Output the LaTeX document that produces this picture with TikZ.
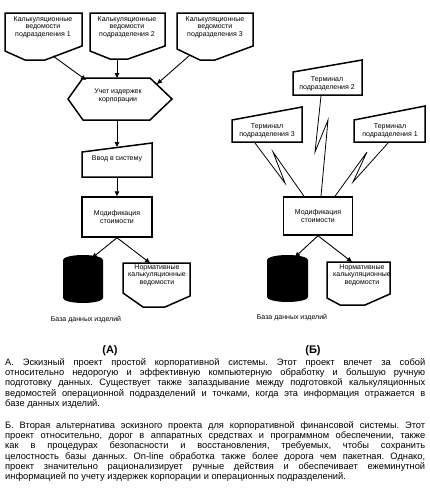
\documentclass[tikz,border=0pt]{standalone}
\usepackage{fontspec}
\setmainfont{Liberation Sans}
\usetikzlibrary{arrows.meta}

\begin{document}
\begin{tikzpicture}
[x=1pt, y=-1pt,
every node/.style={font=\fontsize{7}{7.4}\selectfont, align=center, inner sep=0pt},
outline/.style={draw, line width=1.5pt, line join=miter},
flow/.style={line width=0.9pt, -{Triangle[length=5pt,width=4.5pt]}},
bolt/.style={line width=0.8pt, line join=miter},
caption/.style={font=\bfseries\fontsize{11}{12}\selectfont},
para/.style={anchor=north west, text width=420, align=justify, font=\fontsize{9.3}{10.3}\selectfont}]
\useasboundingbox (0,0) rectangle (430,501);

% (A) source sheets
\draw[outline] (5,13) -- (82,13) -- (82,46) -- (45,60) -- (25,60) -- (5,51) -- cycle;
\draw[outline] (90,13) -- (165,13) -- (165,46) -- (128,59) -- (110,59) -- (90,51) -- cycle;
\draw[outline] (177,13) -- (253,13) -- (253,46) -- (215,60) -- (200,60) -- (177,49) -- cycle;
\node (doc1) at (43,27) {Калькуляционные\\ведомости\\подразделения 1};
\node (doc2) at (127,27) {Калькуляционные\\ведомости\\подразделения 2};
\node (doc3) at (215,27) {Калькуляционные\\ведомости\\подразделения 3};
\coordinate (doc1out) at (53,56);
\coordinate (doc2out) at (117,59);
\coordinate (doc3out) at (190,55);

% (A) cost accounting
\draw[outline] (68,99) -- (83,78) -- (150,78) -- (172,99) -- (150,120) -- (83,120) -- cycle;
\node (cost) at (118,96) {Учет издержек\\корпорации};
\coordinate (costin1) at (86,80);
\coordinate (costin2) at (117,78);
\coordinate (costin3) at (157,84);
\coordinate (costout) at (117,120);

% (A) input
\draw[outline] (82,152) -- (152,143) -- (152,177) -- (82,177) -- cycle;
\node (entry) at (117,159) {Ввод в систему};
\coordinate (entryin) at (117,147);
\coordinate (entryout) at (117,177);

\node[outline, minimum width=70, minimum height=40] (mod1) at (117,217) {Модификация\\стоимости};

% (A) database
\fill (63,260) -- (63,298) arc[start angle=180, end angle=0, x radius=20, y radius=5]
  -- (103,260) arc[start angle=0, end angle=-180, x radius=20, y radius=5] -- cycle;
\coordinate (db1) at (92,258);
\node (db1txt) at (86,320) {База данных изделий};
\draw[outline] (123,263) -- (190,263) -- (190,296) -- (165,307) -- (143,307) -- (123,293) -- cycle;
\node (norm1) at (157,275) {Нормативные\\калькуляционные\\ведомости};
\coordinate (norm1in) at (150,263);

\draw[flow] (doc1out) -- (costin1);
\draw[flow] (doc2out) -- (costin2);
\draw[flow] (doc3out) -- (costin3);
\draw[flow] (costout) -- (entryin);
\draw[flow] (entryout) -- (mod1.north);
\draw[flow] (mod1.south) -- (db1);
\draw[flow] (mod1.south) -- (norm1in);

% (B) terminals
\draw[outline] (293,72) -- (362,60) -- (362,95) -- (293,95) -- cycle;
\draw[outline] (232,120) -- (302,107) -- (302,142) -- (232,142) -- cycle;
\draw[outline] (354,120) -- (425,106) -- (425,142) -- (354,142) -- cycle;
\node (term2) at (327,84) {Терминал\\подразделения 2};
\node (term3) at (267,131) {Терминал\\подразделения 3};
\node (term1) at (390,131) {Терминал\\подразделения 1};

\node[outline, minimum width=69, minimum height=38] (mod2) at (318,216) {Модификация\\стоимости};

\draw[bolt] (term3) ++(-12,12) -- ++(30,40) -- ++(-12,-31) -- ([xshift=-14pt]mod2.north);
\draw[bolt] (term2) ++(-6,12) -- ++(-6,56) -- ++(13,-32) -- ([xshift=3pt]mod2.north);
\draw[bolt] (term1) ++(-2,12) -- ++(-35,39) -- ++(14,-30) -- ([xshift=17pt]mod2.north);

% (B) database
\fill (267,260) -- (267,297) arc[start angle=180, end angle=0, x radius=20.5, y radius=5]
  -- (308,260) arc[start angle=0, end angle=-180, x radius=20.5, y radius=5] -- cycle;
\coordinate (db2) at (295,257);
\node (db2txt) at (292,318) {База данных изделий};
\draw[outline] (327,262) -- (390,262) -- (390,294) -- (365,305) -- (340,305) -- (327,298) -- cycle;
\node (norm2) at (362,275) {Нормативные\\калькуляционные\\ведомости};
\coordinate (norm2in) at (352,262);

\draw[flow] (mod2.south) -- (db2);
\draw[flow] (mod2.south) -- (norm2in);

% captions and notes
\node[caption] (capA) at (110,351) {(А)};
\node[caption] (capB) at (313,351) {(Б)};

\node[para] (noteA) at (5,358) {\frenchspacing\hyphenpenalty=10000\exhyphenpenalty=10000\tolerance=10000
А. Эскизный проект простой корпоративной системы. Этот проект влечет за собой\linebreak
относительно недорогую и эффективную компьютерную обработку и большую ручную\linebreak
подготовку данных. Существует также запаздывание между подготовкой калькуляционных\linebreak
ведомостей операционной подразделений и точками, когда эта информация отражается в\linebreak
базе данных изделий.};

\node[para] (noteB) at (5,421) {\frenchspacing\hyphenpenalty=10000\exhyphenpenalty=10000\tolerance=10000
Б. Вторая альтернатива эскизного проекта для корпоративной финансовой системы. Этот\linebreak
проект относительно, дорог в аппаратных средствах и программном обеспечении, также\linebreak
как в процедурах безопасности и восстановления, требуемых, чтобы сохранить\linebreak
целостность базы данных. On-line обработка также более дорога чем пакетная. Однако,\linebreak
проект значительно рационализирует ручные действия и обеспечивает ежеминутной\linebreak
информацией по учету издержек корпорации и операционных подразделений.};
\end{tikzpicture}
\end{document}
